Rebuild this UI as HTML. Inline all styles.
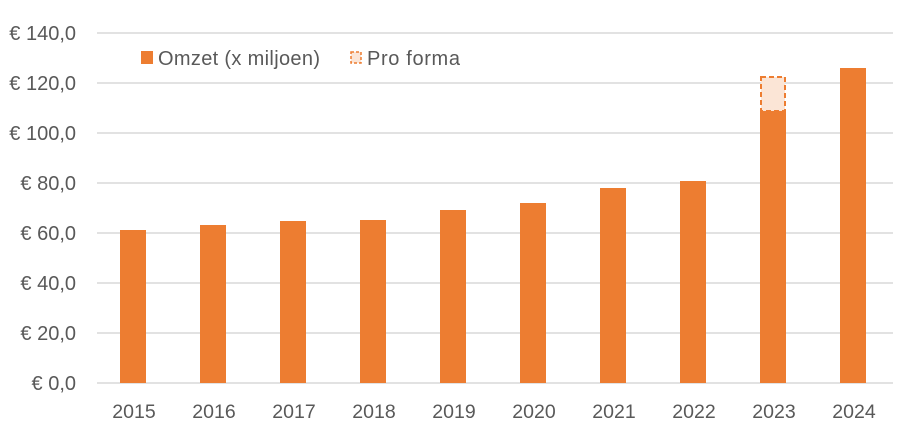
<!DOCTYPE html>
<html><head><meta charset="utf-8"><style>body{margin:0;background:#fff}</style></head><body>
<svg width="907" height="441" xmlns="http://www.w3.org/2000/svg" font-family="Liberation Sans, sans-serif" fill="#595959">
<g stroke="#d9d9d9" stroke-width="1.5">
<line x1="97" x2="893" y1="33" y2="33"/><line x1="97" x2="893" y1="83" y2="83"/><line x1="97" x2="893" y1="133" y2="133"/><line x1="97" x2="893" y1="183" y2="183"/><line x1="97" x2="893" y1="233" y2="233"/><line x1="97" x2="893" y1="283" y2="283"/><line x1="97" x2="893" y1="333" y2="333"/><line x1="97" x2="893" y1="383" y2="383"/>
</g>
<g font-size="20" text-anchor="end">
<text x="76" y="40">€ 140,0</text><text x="76" y="90">€ 120,0</text><text x="76" y="140">€ 100,0</text><text x="76" y="190">€ 80,0</text><text x="76" y="240">€ 60,0</text><text x="76" y="290">€ 40,0</text><text x="76" y="340">€ 20,0</text><text x="76" y="390">€ 0,0</text>
</g>
<g fill="#ed7d31">
<rect x="120" y="230" width="26" height="153"/><rect x="200" y="225" width="26" height="158"/><rect x="280" y="221" width="26" height="162"/><rect x="360" y="220" width="26" height="163"/><rect x="440" y="210" width="26" height="173"/><rect x="520" y="203" width="26" height="180"/><rect x="600" y="188" width="26" height="195"/><rect x="680" y="181" width="26" height="202"/><rect x="760" y="111" width="26" height="272"/><rect x="840" y="68" width="26" height="315"/>
</g>
<rect x="761" y="77" width="24" height="34" fill="#fbe5d6" stroke="#ed7d31" stroke-width="2" stroke-dasharray="5,3"/>
<g font-size="19.5" text-anchor="middle">
<text x="134" y="418">2015</text><text x="214" y="418">2016</text><text x="294" y="418">2017</text><text x="374" y="418">2018</text><text x="454" y="418">2019</text><text x="534" y="418">2020</text><text x="614" y="418">2021</text><text x="694" y="418">2022</text><text x="774" y="418">2023</text><text x="854" y="418">2024</text>
</g>
<rect x="141" y="51" width="12" height="13" fill="#ed7d31"/>
<text x="158" y="65" font-size="20" textLength="162" lengthAdjust="spacing">Omzet (x miljoen)</text>
<rect x="351" y="52" width="10" height="11" fill="#fbe5d6" stroke="#ed7d31" stroke-width="1.5" stroke-dasharray="3,2"/>
<text x="367" y="65" font-size="20" textLength="93" lengthAdjust="spacing">Pro forma</text>
</svg>
</body></html>
